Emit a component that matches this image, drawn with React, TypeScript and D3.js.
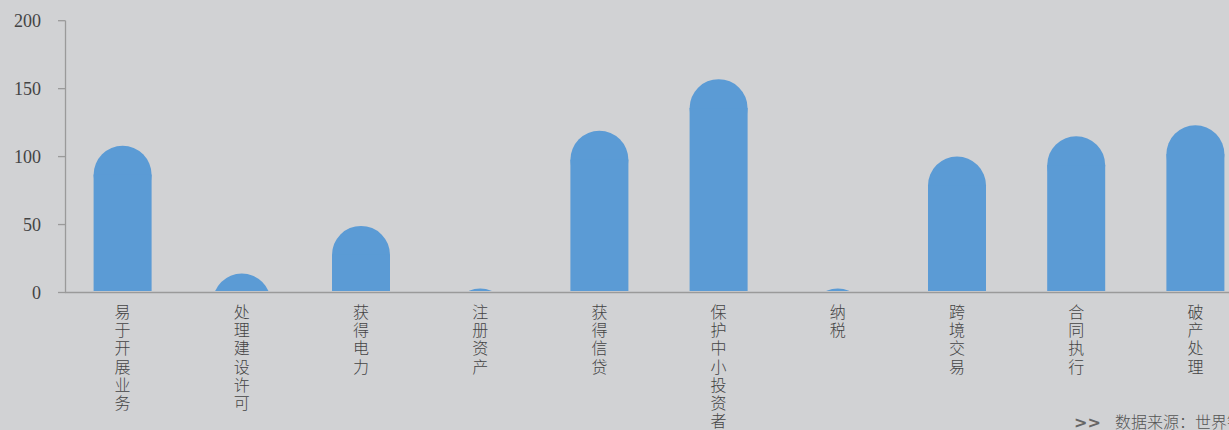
import React from "react";
import * as d3 from "d3";

const categories = ["易于开展业务", "处理建设许可", "获得电力", "注册资产", "获得信贷", "保护中小投资者", "纳税", "跨境交易", "合同执行", "破产处理"];
const values = [108, 14, 49, 3, 119, 157, 3, 100, 115, 123];
const yTicks = [0, 50, 100, 150, 200];
const sourceText = "数据来源：世界银行";

const W = 1229;
const H = 430;
const axisX = 65.5;
const baseY = 292.5;
const topY = 20.7;
const bandStart = 63;
const bandStep = 119.2;
const barW = 58;

export default function App() {
  const y = d3.scaleLinear().domain([0, 200]).range([baseY, topY]);
  const x = d3
    .scaleBand<string>()
    .domain(categories)
    .range([bandStart, bandStart + bandStep * categories.length])
    .paddingInner(0)
    .paddingOuter(0);

  return (
    <svg
      width={W}
      height={H}
      style={{ position: "absolute", left: 0, top: 0, background: "#d1d2d4", display: "block" }}
    >
      <defs>
        <clipPath id="plotClip">
          <rect x={0} y={0} width={W} height={baseY - 1.5} />
        </clipPath>
      </defs>
      <rect x={0} y={0} width={W} height={H} fill="#d1d2d4" />

      <g clipPath="url(#plotClip)">
        {categories.map((c, i) => {
          const cx = (x(c) as number) + x.bandwidth() / 2;
          const r = barW / 2;
          const yt = y(values[i]);
          const cy = yt + r;
          const rectTop = Math.min(cy, baseY);
          return (
            <g key={c} fill="#5b9bd5">
              <circle cx={cx} cy={cy} r={r} />
              {baseY - rectTop > 0 && (
                <rect x={cx - r} y={rectTop} width={barW} height={baseY - rectTop} />
              )}
            </g>
          );
        })}
      </g>

      {/* y axis */}
      <line x1={axisX} x2={axisX} y1={topY} y2={baseY} stroke="#9a9a9a" strokeWidth={1.3} />
      {yTicks.map((t) => (
        <g key={t}>
          <line x1={58} x2={axisX} y1={y(t)} y2={y(t)} stroke="#9a9a9a" strokeWidth={1.3} />
          <text
            x={41}
            y={y(t)}
            dy="0.36em"
            textAnchor="end"
            fontFamily="'Liberation Serif', 'DejaVu Serif', serif"
            fontSize={18}
            fill="#444"
          >
            {t}
          </text>
        </g>
      ))}

      {/* x axis */}
      <line x1={axisX - 0.5} x2={W} y1={baseY} y2={baseY} stroke="#9a9a9a" strokeWidth={1.6} />

      {categories.map((c) => {
        const cx = (x(c) as number) + x.bandwidth() / 2;
        return (
          <text
            key={c}
            fontFamily="'Noto Sans CJK SC', sans-serif"
            fontWeight={300}
            fontSize={16}
            fill="#444"
            textAnchor="middle"
          >
            {Array.from(c).map((ch, j) => (
              <tspan key={j} x={cx} y={318 + j * 18.2}>
                {ch}
              </tspan>
            ))}
          </text>
        );
      })}

      <text x={1074} y={428} fontFamily="'DejaVu Sans', sans-serif" fontSize={16} fontWeight="bold" fill="#666">
        &gt;&gt;
      </text>
      <text x={1115} y={428} fontFamily="'Noto Sans CJK SC', sans-serif" fontWeight={300} fontSize={16} fill="#555">
        {sourceText}
      </text>
    </svg>
  );
}
